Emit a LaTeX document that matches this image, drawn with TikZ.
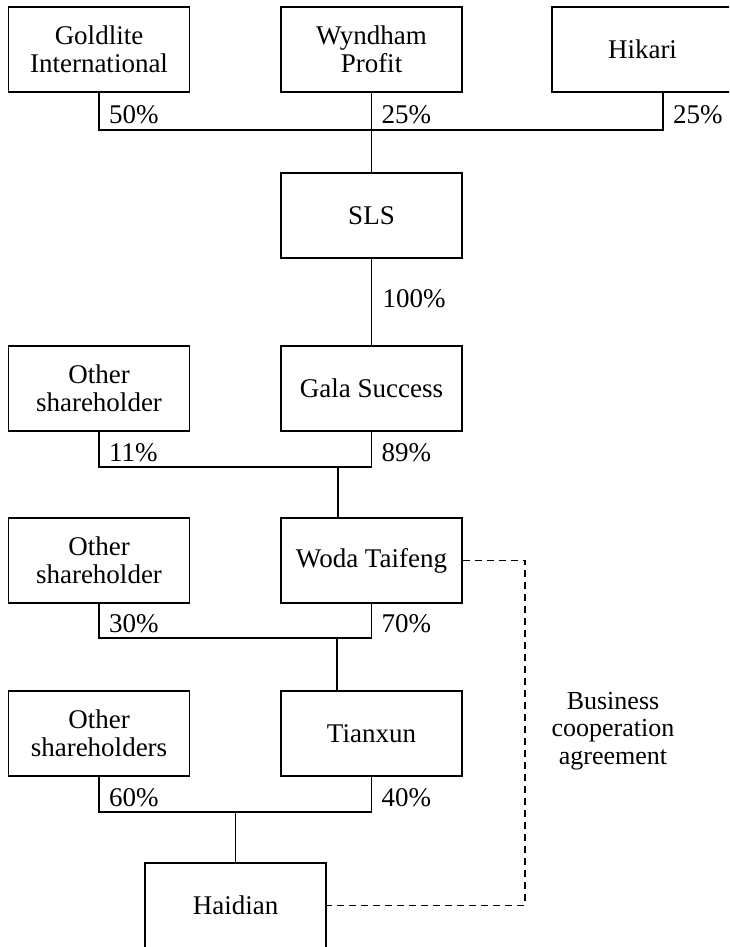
\documentclass[tikz,border=0pt]{standalone}
\usepackage{fontspec}
\setmainfont{Liberation Serif}
\usepackage{tikz}
\usetikzlibrary{calc}

\begin{document}
\begin{tikzpicture}[x=1pt,y=-1pt,
  every node/.style={font=\fontsize{27}{28}\selectfont},
  firm/.style={draw,line width=1.1pt,minimum width=181pt,minimum height=85pt,inner sep=2pt,align=center},
  own/.style={line width=1.1pt},
  share/.style={anchor=base west,inner sep=0pt},
  agree/.style={line width=1.1pt,dash pattern=on 7pt off 5pt}]

\useasboundingbox (0,0) rectangle (729,947);
\clip (0,0) rectangle (729,947);

% x positions of the two columns
\def\xl{99}
\def\xr{371.5}

% top owners
\node[firm] (gold) at (\xl,49.5) {Goldlite\\International};
\node[firm] (wynd) at (\xr,49.5) {Wyndham\\Profit};
\node[firm] (hika) at (642.5,49.5) {Hikari};

% holding chain
\node[firm] (sls)  at (\xr,215.5) {SLS};
\node[firm] (oth1) at (\xl,388.5) {Other\\shareholder};
\node[firm] (gala) at (\xr,388.5) {Gala Success};
\node[firm] (oth2) at (\xl,560.5) {Other\\shareholder};
\node[firm] (woda) at (\xr,560.5) {Woda Taifeng};
\node[firm] (oth3) at (\xl,733.5) {Other\\shareholders};
\node[firm] (tian) at (\xr,733.5) {Tianxun};
\node[firm] (haid) at (235.5,905.5) {Haidian};

% bus junctions
\coordinate (bus1) at (\xr,130);
\coordinate (bus2) at (338,467);
\coordinate (bus3) at (337,638);
\coordinate (bus4) at (235.5,812);
\coordinate (hdrop) at (663,92);
\coordinate (dashx) at (525,0);

% ownership lines
\draw[own] (gold.south) |- (bus1) -| (hdrop);
\draw[own] (wynd.south) -- (sls.north);
\draw[own] (sls.south) -- (gala.north);
\draw[own] (oth1.south) |- (gala.south |- bus2) -- (gala.south);
\draw[own] (bus2) -- (bus2 |- woda.north);
\draw[own] (oth2.south) |- (woda.south |- bus3) -- (woda.south);
\draw[own] (bus3) -- (bus3 |- tian.north);
\draw[own] (oth3.south) |- (tian.south |- bus4) -- (tian.south);
\draw[own] (bus4) -- (haid.north);

% percentages
\node[share] (p50) at (\xl+10,124) {50\%};
\node[share] (p25a) at (\xr+10,124) {25\%};
\node[share] (p25b) at (673,124) {25\%};
\node[share] (p100) at (\xr+11,307) {100\%};
\node[share] (p11) at (\xl+10,461) {11\%};
\node[share] (p89) at (\xr+10,461) {89\%};
\node[share] (p30) at (\xl+10,632) {30\%};
\node[share] (p70) at (\xr+10,632) {70\%};
\node[share] (p60) at (\xl+10,806) {60\%};
\node[share] (p40) at (\xr+10,806) {40\%};

% business cooperation agreement
\draw[agree] (woda.east) -- (woda.east -| dashx) |- (haid.east);
\node[align=center,font=\fontsize{26}{27.5}\selectfont] (bca) at (613,731) {Business\\cooperation\\agreement};

\end{tikzpicture}
\end{document}
